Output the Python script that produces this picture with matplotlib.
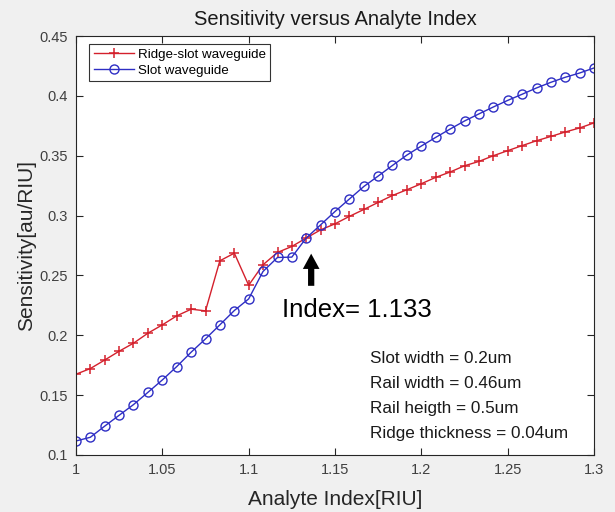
import matplotlib
matplotlib.use("Agg")
import matplotlib.pyplot as plt

plt.rcParams['font.family'] = ['Liberation Sans', 'DejaVu Sans']

analyte_index = [1.0, 1.0083, 1.0167, 1.025, 1.0333, 1.0417, 1.05, 1.0583, 1.0667,
                 1.075, 1.0833, 1.0917, 1.1, 1.1083, 1.1167, 1.125, 1.1333, 1.1417,
                 1.15, 1.1583, 1.1667, 1.175, 1.1833, 1.1917, 1.2, 1.2083, 1.2167,
                 1.225, 1.2333, 1.2417, 1.25, 1.2583, 1.2667, 1.275, 1.2833, 1.2917, 1.3]

ridge_slot = [0.1675, 0.1722, 0.1794, 0.1867, 0.1934, 0.2018, 0.2087, 0.2162, 0.2218,
              0.2204, 0.2622, 0.2686, 0.2418, 0.2589, 0.2692, 0.2742, 0.2812, 0.2881,
              0.2931, 0.2993, 0.3051, 0.3110, 0.3168, 0.3216, 0.3266, 0.3319, 0.3364,
              0.3416, 0.3452, 0.3500, 0.3542, 0.3584, 0.3625, 0.3661, 0.3698, 0.3732, 0.3774]

slot = [0.1117, 0.1148, 0.1242, 0.1332, 0.1421, 0.1524, 0.1627, 0.1738, 0.1859,
        0.1970, 0.2087, 0.2207, 0.2304, 0.2533, 0.2650, 0.2653, 0.2812, 0.2923,
        0.3034, 0.3138, 0.3243, 0.3330, 0.3419, 0.3506, 0.3581, 0.3653, 0.3723,
        0.3790, 0.3849, 0.3907, 0.3962, 0.4013, 0.4066, 0.4113, 0.4155, 0.4191, 0.4233]

x_ticks = [1.0, 1.05, 1.1, 1.15, 1.2, 1.25, 1.3]
x_tick_labels = ['1', '1.05', '1.1', '1.15', '1.2', '1.25', '1.3']
y_ticks = [0.1, 0.15, 0.2, 0.25, 0.3, 0.35, 0.4, 0.45]
y_tick_labels = ['0.1', '0.15', '0.2', '0.25', '0.3', '0.35', '0.4', '0.45']

params = ['Slot width = 0.2um', 'Rail width = 0.46um',
          'Rail heigth = 0.5um', 'Ridge thickness = 0.04um']

fig = plt.figure(figsize=(6.15, 5.12), dpi=100, facecolor='#f0f0f0')
ax = fig.add_axes([76/615, 1-455/512, 518/615, 419/512])
ax.set_facecolor('white')

red = '#d4202c'
blue = '#2e2ec4'
ax.plot(analyte_index, ridge_slot, color=red, lw=1.0, marker='+', ms=7, mew=1.1,
        label='Ridge-slot waveguide')
ax.plot(analyte_index, slot, color=blue, lw=1.0, marker='o', ms=6.5, mew=1.0,
        mfc='none', label='Slot waveguide')

ax.set_xlim(1.0, 1.3)
ax.set_ylim(0.1, 0.45)
ax.set_xticks(x_ticks)
ax.set_xticklabels(x_tick_labels)
ax.set_yticks(y_ticks)
ax.set_yticklabels(y_tick_labels)
ax.tick_params(direction='in', top=True, right=True, length=5, width=0.8,
               labelsize=10.5, labelcolor='#404040', color='#262626', pad=6)
for s in ax.spines.values():
    s.set_color('#262626')
    s.set_linewidth(0.8)

ax.set_title('Sensitivity versus Analyte Index', fontsize=14.5, color='#1a1a1a', pad=8)
ax.set_xlabel('Analyte Index[RIU]', fontsize=15, color='#262626', labelpad=9)
ax.set_ylabel('Sensitivity[au/RIU]', fontsize=15, color='#262626', labelpad=2)

leg = ax.legend(loc='upper left', bbox_to_anchor=(0.025, 0.981), fontsize=9.6,
                frameon=True, fancybox=False, handlelength=3.0, handletextpad=0.3,
                borderpad=0.35, labelspacing=0.25, borderaxespad=0)
leg.get_frame().set_edgecolor('black')
leg.get_frame().set_linewidth(0.8)

ax.annotate('', xy=(1.1362, 0.2705), xytext=(1.1362, 0.2390),
            arrowprops=dict(arrowstyle='simple,head_width=1.2,head_length=1.1,tail_width=0.45',
                            color='black', lw=0))
ax.text(1.1195, 0.2212, 'Index= 1.133', fontsize=18.5, ha='left', va='center', color='black')

for i, t in enumerate(params):
    ax.text(1.1705, 0.1810 - i * 0.0209, t, fontsize=12.3, ha='left', va='center',
            color='#1a1a1a')

fig.savefig('out.png', dpi=100, facecolor=fig.get_facecolor())
